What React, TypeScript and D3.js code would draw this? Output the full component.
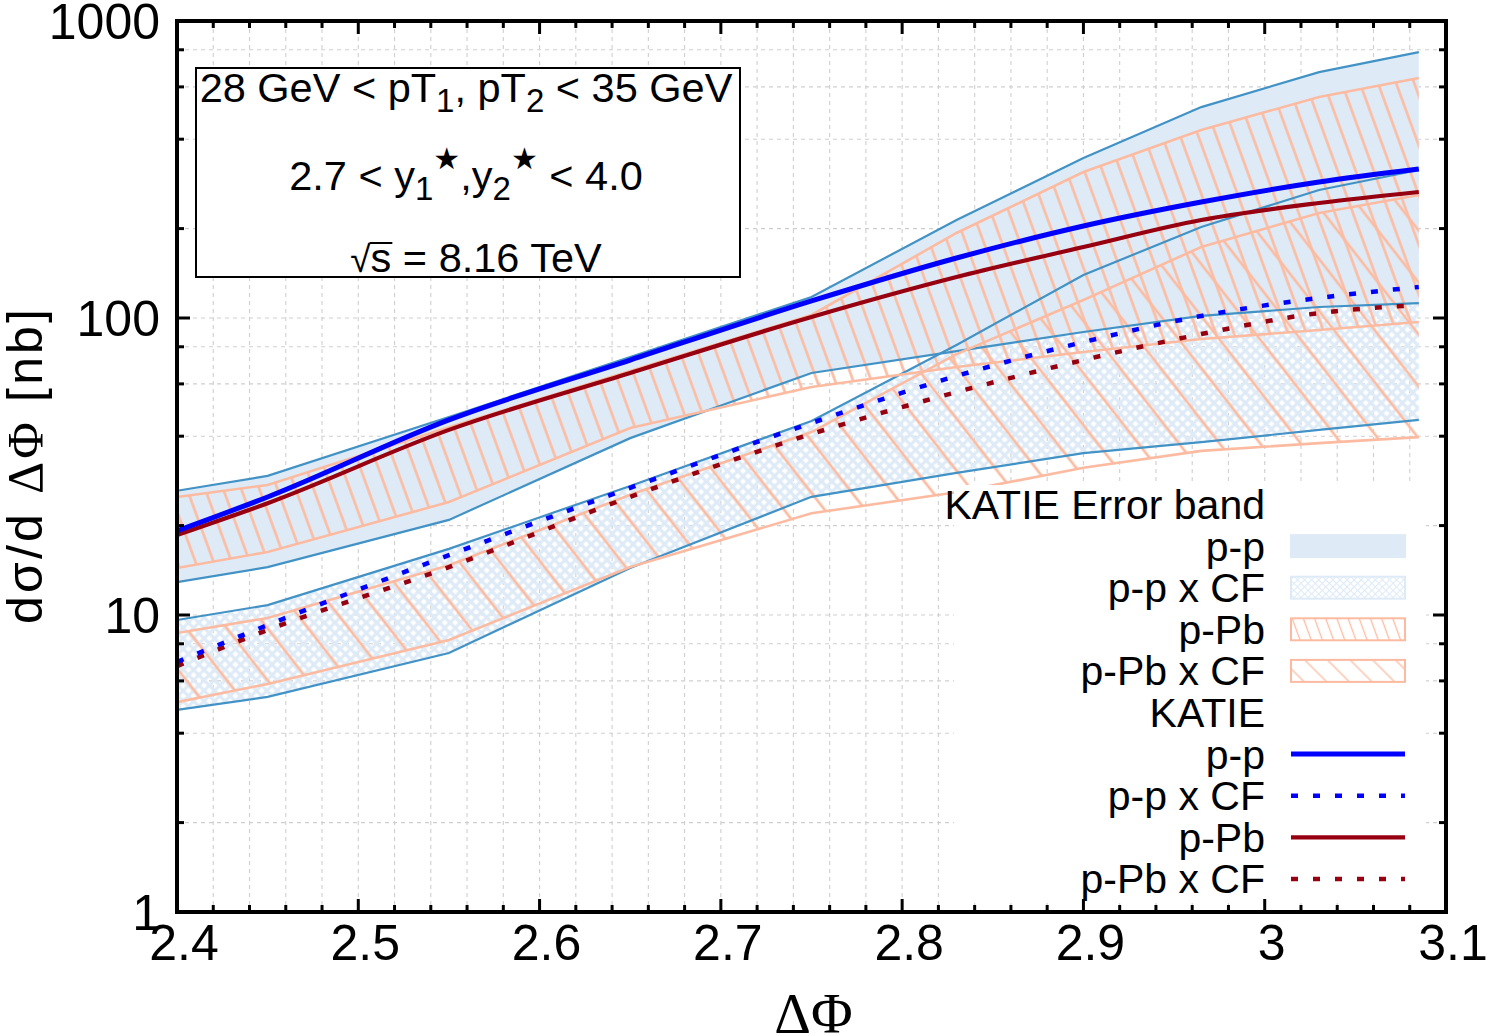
import React, { useLayoutEffect, useRef, useState } from 'react';
import * as d3 from 'd3';

// ---------------- data ----------------
const dphi = [2.4, 2.45, 2.55, 2.65, 2.75, 2.83, 2.9, 2.965, 3.03, 3.085];

// KATIE central predictions
const ppCentral = [19.2, 24.97, 45.4, 72.2, 114.1, 159.2, 204.1, 245.8, 287.1, 317.5];
const ppCFCentral = [6.95, 9.25, 15.9, 26.8, 44.3, 63.8, 83.0, 101.6, 116.8, 127.2];
const pPbCentral = [18.6, 23.8, 42.0, 65.3, 100.8, 137.4, 173.4, 213.8, 243.9, 265.6];
const pPbCFCentral = [6.73, 8.9, 14.5, 25.0, 40.7, 56.3, 72.2, 88.3, 103.9, 110.6];

// KATIE error bands
const ppUpper = [26.2, 29.4, 46.4, 73.9, 117.7, 213.8, 345.7, 513, 673, 786];
const ppLower = [12.9, 14.5, 20.9, 39.4, 65.3, 77.4, 89.7, 101.6, 108.9, 112.3];
const ppCFUpper = [9.62, 10.8, 16.7, 27.2, 45.0, 81.1, 139.6, 202.5, 269.8, 315];
const ppCFLower = [4.79, 5.3, 7.45, 14.4, 25.0, 30.1, 35.1, 38.2, 42.0, 45.4];
const pPbUpper = [24.97, 27.4, 42.9, 66.3, 102.4, 193.3, 310, 429.5, 554.7, 642.9];
const pPbLower = [14.4, 16.3, 24.0, 42.6, 58.6, 68.4, 76.8, 85.0, 91.1, 96.9];
const pPbCFUpper = [8.7, 9.77, 14.7, 25.4, 41.3, 75.6, 115, 173.4, 225.7, 259.5];
const pPbCFLower = [5.09, 5.86, 8.24, 14.5, 22.0, 25.9, 31.3, 35.7, 37.9, 39.7];

const xMajorTicks = [2.4, 2.5, 2.6, 2.7, 2.8, 2.9, 3.0, 3.1];
const xTickLabels = ['2.4', '2.5', '2.6', '2.7', '2.8', '2.9', '3', '3.1'];
const yMajorTicks = [1, 10, 100, 1000];
const yTickLabels = ['1', '10', '100', '1000'];
const yMinorMultipliers = [2, 4, 6, 8];

const bandLegend = ['p-p', 'p-p x CF', 'p-Pb', 'p-Pb x CF'];
const lineLegend = ['p-p', 'p-p x CF', 'p-Pb', 'p-Pb x CF'];

// ---------------- styling ----------------
const W = 1492;
const H = 1036;
const L = 177, R = 1446, T = 21, B = 912;
const LIGHT = '#deebf7';
const STEEL = '#4292c6';
const SALMON = '#fcbba1';
const BLUE = '#0000ff';
const DARKRED = '#960010';
const SANS = '"Liberation Sans", Arial, Helvetica, sans-serif';
const SERIF = '"Liberation Serif", "Times New Roman", serif';

const x = d3.scaleLinear().domain([2.4, 3.1]).range([L, R]);
const y = d3.scaleLog().domain([1, 1000]).range([B, T]);

type Pt = { x: number; lo: number; hi: number };
const band = (lo: number[], hi: number[]): Pt[] => dphi.map((d, i) => ({ x: d, lo: lo[i], hi: hi[i] }));

const areaGen = d3.area<Pt>().x(d => x(d.x)).y0(d => y(d.lo)).y1(d => y(d.hi));
const lineGen = d3.line<[number, number]>().x(d => x(d[0])).y(d => y(d[1]));
const smoothGen = d3.line<[number, number]>().x(d => x(d[0])).y(d => y(d[1])).curve(d3.curveMonotoneX);
const pts = (v: number[]): [number, number][] => dphi.map((d, i) => [d, v[i]]);

const xMinorTicks = d3.range(0, 36).map(i => 2.4 + i * 0.02).filter(v => v <= 3.1001);
const yMinorTicks: number[] = [];
[1, 10, 100].forEach(dec => yMinorMultipliers.forEach(m => yMinorTicks.push(dec * m)));

export default function App() {
  const sRef = useRef<SVGTSpanElement>(null);
  const [bar, setBar] = useState<{ x1: number; x2: number } | null>(null);

  useLayoutEffect(() => {
    const el = sRef.current as any;
    if (!el || !el.getStartPositionOfChar) return;
    try {
      const p = el.getStartPositionOfChar(0);
      const e = el.getEndPositionOfChar(0);
      setBar({ x1: p.x - 1, x2: e.x + 1 });
    } catch (err) {
      /* ignore */
    }
  }, []);

  const bands = [
    { d: band(ppLower, ppUpper), fill: LIGHT, edge: STEEL, lo: ppLower, hi: ppUpper },
    { d: band(ppCFLower, ppCFUpper), fill: 'url(#crossHatch)', edge: STEEL, lo: ppCFLower, hi: ppCFUpper },
    { d: band(pPbLower, pPbUpper), fill: 'url(#hatchDense)', edge: SALMON, lo: pPbLower, hi: pPbUpper },
    { d: band(pPbCFLower, pPbCFUpper), fill: 'url(#hatchSparse)', edge: SALMON, lo: pPbCFLower, hi: pPbCFUpper },
  ];

  const rowY = (i: number) => 504.5 + i * 41.6;
  const legendTextX = 1265;
  const sx0 = 1291, sx1 = 1405;
  const legendBandFill = [LIGHT, 'url(#legCross)', 'url(#legDense)', 'url(#legSparse)'];
  const legendBandStroke = [LIGHT, LIGHT, SALMON, SALMON];
  const legendLines = [
    { c: BLUE, dash: undefined as string | undefined, w: 5 },
    { c: BLUE, dash: '7 15', w: 4.5 },
    { c: DARKRED, dash: undefined, w: 4.2 },
    { c: DARKRED, dash: '7 15', w: 4.5 },
  ];

  return (
    <svg width={W} height={H} viewBox={`0 0 ${W} ${H}`} style={{ position: 'absolute', left: 0, top: 0, display: 'block', background: '#fff' }}>
      <defs>
        <clipPath id="plotClip">
          <rect x={L} y={T} width={R - L} height={B - T} />
        </clipPath>
        <pattern id="crossHatch" patternUnits="userSpaceOnUse" width={7.4} height={7.4} patternTransform="rotate(45)">
          <path d="M0,3.7 H7.4 M3.7,0 V7.4" stroke={LIGHT} strokeWidth={3.1} fill="none" />
        </pattern>
        <pattern id="hatchDense" patternUnits="userSpaceOnUse" width={17} height={17} patternTransform="rotate(-20)">
          <path d="M8.5,-1 V18" stroke={SALMON} strokeWidth={2.6} fill="none" />
        </pattern>
        <pattern id="hatchSparse" patternUnits="userSpaceOnUse" width={32} height={32} patternTransform="rotate(-38)">
          <path d="M16,-1 V33" stroke={SALMON} strokeWidth={2.7} fill="none" />
        </pattern>
        <pattern id="legCross" patternUnits="userSpaceOnUse" width={5} height={5} patternTransform="rotate(45)">
          <path d="M0,2.5 H5 M2.5,0 V5" stroke={LIGHT} strokeWidth={1.2} fill="none" />
        </pattern>
        <pattern id="legDense" patternUnits="userSpaceOnUse" width={10.5} height={10.5} patternTransform="rotate(-20)">
          <path d="M5.25,-1 V12" stroke={SALMON} strokeWidth={1.3} fill="none" />
        </pattern>
        <pattern id="legSparse" patternUnits="userSpaceOnUse" width={16} height={16} patternTransform="rotate(-45)">
          <path d="M8,-1 V17" stroke={SALMON} strokeWidth={1.3} fill="none" />
        </pattern>
      </defs>

      <rect x={0} y={0} width={W} height={H} fill="#fff" />

      {/* grid */}
      <g stroke="#cfcfcf" strokeWidth={1.1} strokeDasharray="4 4">
        {xMinorTicks.map((v, i) => (
          <line key={'gx' + i} x1={x(v)} x2={x(v)} y1={T} y2={B} />
        ))}
        {yMinorTicks.concat([10, 100]).map((v, i) => (
          <line key={'gy' + i} x1={L} x2={R} y1={y(v)} y2={y(v)} />
        ))}
      </g>

      {/* bands */}
      <g clipPath="url(#plotClip)">
        {bands.map((b, i) => (
          <path key={'band' + i} d={areaGen(b.d) || ''} fill={b.fill} stroke="none" />
        ))}
        {bands.map((b, i) => (
          <g key={'edge' + i} fill="none" stroke={b.edge} strokeWidth={b.edge === STEEL ? 2.2 : 2.6}>
            <path d={lineGen(pts(b.hi)) || ''} />
            <path d={lineGen(pts(b.lo)) || ''} />
          </g>
        ))}
        {/* central lines */}
        <path d={smoothGen(pts(pPbCFCentral)) || ''} fill="none" stroke={DARKRED} strokeWidth={4.5} strokeDasharray="7 15" />
        <path d={smoothGen(pts(ppCFCentral)) || ''} fill="none" stroke={BLUE} strokeWidth={4.5} strokeDasharray="7 15" />
        <path d={smoothGen(pts(pPbCentral)) || ''} fill="none" stroke={DARKRED} strokeWidth={4.2} />
        <path d={smoothGen(pts(ppCentral)) || ''} fill="none" stroke={BLUE} strokeWidth={5} />
      </g>

      {/* legend */}
      <rect x={954} y={485} width={472} height={418} fill="#fff" />
      <g fontFamily={SANS} fontSize={41} fill="#000" textAnchor="end">
        <text x={legendTextX} y={rowY(0) + 14.5}>KATIE Error band</text>
        {bandLegend.map((lab, i) => (
          <g key={'lb' + i}>
            <text x={legendTextX} y={rowY(i + 1) + 14.5}>{lab}</text>
            <rect x={sx0} y={rowY(i + 1) - 11} width={sx1 - sx0} height={22}
              fill={legendBandFill[i]} stroke={legendBandStroke[i]} strokeWidth={2} />
          </g>
        ))}
        <text x={legendTextX} y={rowY(5) + 14.5}>KATIE</text>
        {lineLegend.map((lab, i) => (
          <g key={'ll' + i}>
            <text x={legendTextX} y={rowY(i + 6) + 14.5}>{lab}</text>
            <line x1={sx0} x2={sx1} y1={rowY(i + 6)} y2={rowY(i + 6)} stroke={legendLines[i].c}
              strokeWidth={legendLines[i].w} strokeDasharray={legendLines[i].dash} />
          </g>
        ))}
      </g>

      {/* info box */}
      <rect x={196} y={68} width={544} height={209} fill="#fff" stroke="#000" strokeWidth={2} />
      <g fontFamily={SANS} fontSize={41.5} fill="#000" textAnchor="middle">
        <text x={466} y={102}>
          28 GeV &lt; pT
          <tspan fontSize={33} dy={10}>1</tspan>
          <tspan dy={-10}>, pT</tspan>
          <tspan fontSize={33} dy={10}>2</tspan>
          <tspan dy={-10}> &lt; 35 GeV</tspan>
        </text>
        <text x={466} y={190}>
          2.7 &lt; y
          <tspan fontSize={33} dy={10}>1</tspan>
          <tspan fontSize={30} dy={-31} fontFamily='"DejaVu Sans", sans-serif'>★</tspan>
          <tspan dy={21}>,y</tspan>
          <tspan fontSize={33} dy={10}>2</tspan>
          <tspan fontSize={30} dy={-31} fontFamily='"DejaVu Sans", sans-serif'>★</tspan>
          <tspan dy={21}> &lt; 4.0</tspan>
        </text>
        <text x={476} y={272}>
          <tspan fontFamily='"DejaVu Sans", sans-serif' fontSize={37} fontWeight={300}>√</tspan>
          <tspan ref={sRef}>s</tspan>
          <tspan> = 8.16 TeV</tspan>
        </text>
      </g>
      {bar && <line x1={bar.x1} x2={bar.x2} y1={243} y2={243} stroke="#000" strokeWidth={2} />}

      {/* axes frame and ticks */}
      <g stroke="#000" strokeWidth={3}>
        {xMinorTicks.map((v, i) => {
          const major = xMajorTicks.some(m => Math.abs(m - v) < 1e-6);
          const len = major ? 13 : 7;
          return (
            <g key={'tx' + i}>
              <line x1={x(v)} x2={x(v)} y1={B} y2={B - len} />
              <line x1={x(v)} x2={x(v)} y1={T} y2={T + len} />
            </g>
          );
        })}
        {yMajorTicks.map((v, i) => (
          <g key={'tyM' + i}>
            <line x1={L} x2={L + 13} y1={y(v)} y2={y(v)} />
            <line x1={R} x2={R - 13} y1={y(v)} y2={y(v)} />
          </g>
        ))}
        {yMinorTicks.map((v, i) => (
          <g key={'tym' + i}>
            <line x1={L} x2={L + 7} y1={y(v)} y2={y(v)} />
            <line x1={R} x2={R - 7} y1={y(v)} y2={y(v)} />
          </g>
        ))}
      </g>
      <rect x={L} y={T} width={R - L} height={B - T} fill="none" stroke="#000" strokeWidth={4} />

      {/* tick labels */}
      <g fontFamily={SANS} fontSize={50} fill="#000">
        {xMajorTicks.map((v, i) => (
          <text key={'xl' + i} x={x(v) + 7} y={960} textAnchor="middle">{xTickLabels[i]}</text>
        ))}
        {yMajorTicks.map((v, i) => (
          <text key={'yl' + i} x={160} y={y(v)} dy="0.36em" textAnchor="end">{yTickLabels[i]}</text>
        ))}
      </g>

      {/* axis titles */}
      <text transform={`translate(42, ${(T + B) / 2}) rotate(-90)`} textAnchor="middle"
        fontFamily={SANS} fontSize={50} fill="#000" textLength={315} lengthAdjust="spacing">
        dσ/d <tspan fontFamily={SERIF}>Δ</tspan><tspan fontFamily={SERIF}>Φ</tspan> [nb]
      </text>
      <text x={(L + R) / 2 + 2} y={1033} textAnchor="middle" fontFamily={SERIF} fontSize={57} fill="#000">ΔΦ</text>
    </svg>
  );
}
